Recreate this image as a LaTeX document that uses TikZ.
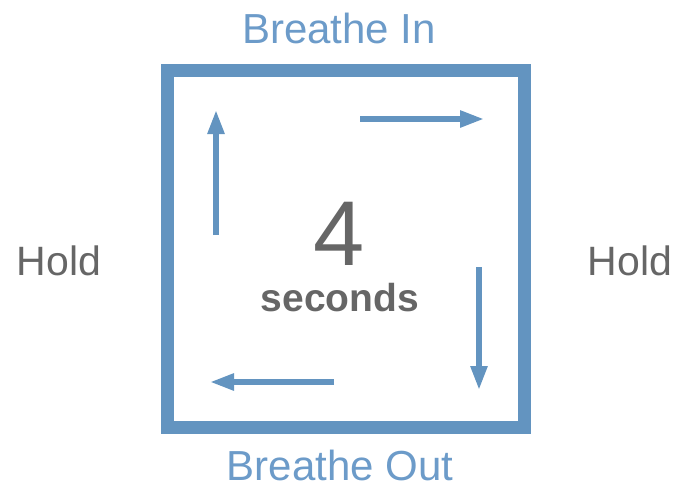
\documentclass[tikz,border=0pt]{standalone}
\usepackage{fontspec}
\setmainfont{Liberation Sans}
\usetikzlibrary{arrows.meta}
\definecolor{boxblue}{HTML}{6394C0}
\definecolor{textblue}{HTML}{6C9BC9}
\definecolor{textgray}{HTML}{666666}
\tikzset{
  phase/.style={text=textblue,font=\fontsize{42}{42}\selectfont,inner sep=0pt,anchor=base},
  hold/.style={text=textgray,font=\fontsize{41}{41}\selectfont,inner sep=0pt,anchor=base},
  flow/.style={draw=boxblue,line width=5.5pt,-{Triangle[length=24pt,width=16pt]}}
}
\begin{document}
\begin{tikzpicture}[x=1pt,y=-1pt]
\useasboundingbox (0,0) rectangle (678,490);
\path node (box) [draw=boxblue,line width=13pt,minimum size=357pt,inner sep=0pt] at (346,249) {}
node (in) [phase] at (339,43) {Breathe In}
node (out) [phase] at (340,480) {Breathe Out}
node (holdL) [hold] at (59,275) {Hold}
node (holdR) [hold] at (630,275) {Hold}
node (four) [text=textgray,font=\fontsize{92}{92}\selectfont,inner sep=0pt,anchor=base] at (339,265) {4}
node (secs) [text=textgray,font=\bfseries\fontsize{39}{39}\selectfont,inner sep=0pt,anchor=base] at (340,311) {seconds}
;
\coordinate (upA) at (216,235);
\coordinate (upB) at (216,110);
\coordinate (rtA) at (360,119);
\coordinate (rtB) at (484,119);
\coordinate (dnA) at (479,267);
\coordinate (dnB) at (479,390);
\coordinate (lfA) at (334,382);
\coordinate (lfB) at (210,382);
\draw[flow] (upA) -- (upB);
\draw[flow] (rtA) -- (rtB);
\draw[flow] (dnA) -- (dnB);
\draw[flow] (lfA) -- (lfB);
\end{tikzpicture}
\end{document}
